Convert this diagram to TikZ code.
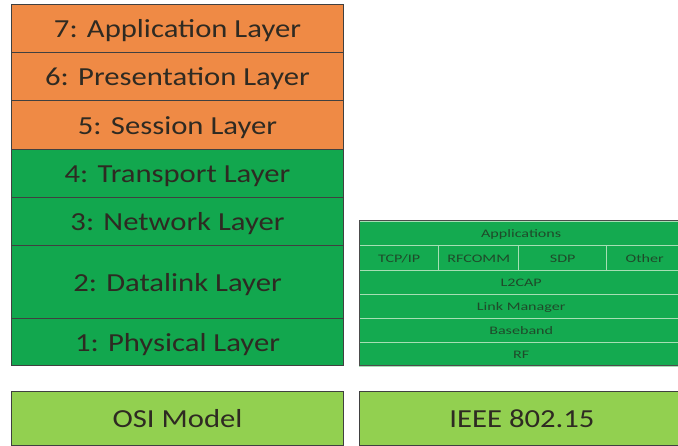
\documentclass[tikz,border=0pt]{standalone}
\usepackage{fontspec}
\setmainfont{Carlito}
\newfontfamily\layerfont[FakeStretch=1.18]{Carlito}
\newfontfamily\stackfont[FakeStretch=1.4]{Carlito}
\definecolor{osiorange}{HTML}{EF8A45}
\definecolor{osigreen}{HTML}{12A74E}
\definecolor{btgreen}{HTML}{14AA50}
\definecolor{namegreen}{HTML}{92D050}
\definecolor{rowline}{HTML}{A6DEB4}
\definecolor{inkdark}{HTML}{2E2A22}
\definecolor{inkgreen}{HTML}{1F4A2A}
\begin{document}
\begin{tikzpicture}[x=1pt,y=-1pt,
  layer/.style={draw=black!75,line width=1pt,inner sep=0pt,anchor=north west,
    text height=18.5,text depth=0,
    minimum width=332,text=inkdark,font=\layerfont\fontsize{26}{26}\selectfont},
  btrow/.style={draw=rowline,line width=1.4pt,fill=btgreen,inner sep=0pt,anchor=north west,
    text height=8.3,text depth=0,
    text=inkgreen,font=\stackfont\fontsize{11.5}{11.5}\selectfont},
  namebox/.style={draw=black!75,line width=1pt,fill=namegreen,inner sep=0pt,anchor=north west,
    text height=18.5,text depth=0,
    minimum height=54,text=inkdark,font=\layerfont\fontsize{26}{26}\selectfont}]
  \useasboundingbox (0,0) rectangle (678,446);
  \clip (0,0) rectangle (678,446);
  % OSI model
  \foreach \n/\top/\h/\col/\txt in {7/4/48/osiorange/7: Application Layer,
      6/52/48/osiorange/6: Presentation Layer, 5/100/49/osiorange/5: Session Layer,
      4/149/48/osigreen/4: Transport Layer, 3/197/48/osigreen/3: Network Layer,
      2/245/73/osigreen/2: Datalink Layer, 1/318/47/osigreen/1: Physical Layer}
    \node[layer,fill=\col,minimum height=\h] (osi\n) at (11,\top) {\txt};
  % IEEE 802.15 stack
  \node[btrow,minimum width=323,minimum height=24] (apps) at (359,221) {Applications};
  \node[btrow,minimum width=79,minimum height=25] (tcpip) at (359,245) {TCP/IP};
  \node[btrow,minimum width=80,minimum height=25] (rfcomm) at (438,245) {RFCOMM};
  \node[btrow,minimum width=88,minimum height=25] (sdp) at (518,245) {SDP};
  \node[btrow,minimum width=76,minimum height=25] (other) at (606,245) {Other};
  \node[btrow,minimum width=323,minimum height=24] (l2cap) at (359,270) {L2CAP};
  \node[btrow,minimum width=323,minimum height=24] (lmp) at (359,294) {Link Manager};
  \node[btrow,minimum width=323,minimum height=24] (base) at (359,318) {Baseband};
  \node[btrow,minimum width=323,minimum height=24] (rf) at (359,342) {RF};
  \draw[black!70,line width=1pt] (359,221) rectangle (684,366);
  % names
  \node[namebox,minimum width=332] (osiname) at (11,391) {OSI Model};
  \node[namebox,minimum width=325] (ieeename) at (359,391) {IEEE 802.15};
\end{tikzpicture}
\end{document}
